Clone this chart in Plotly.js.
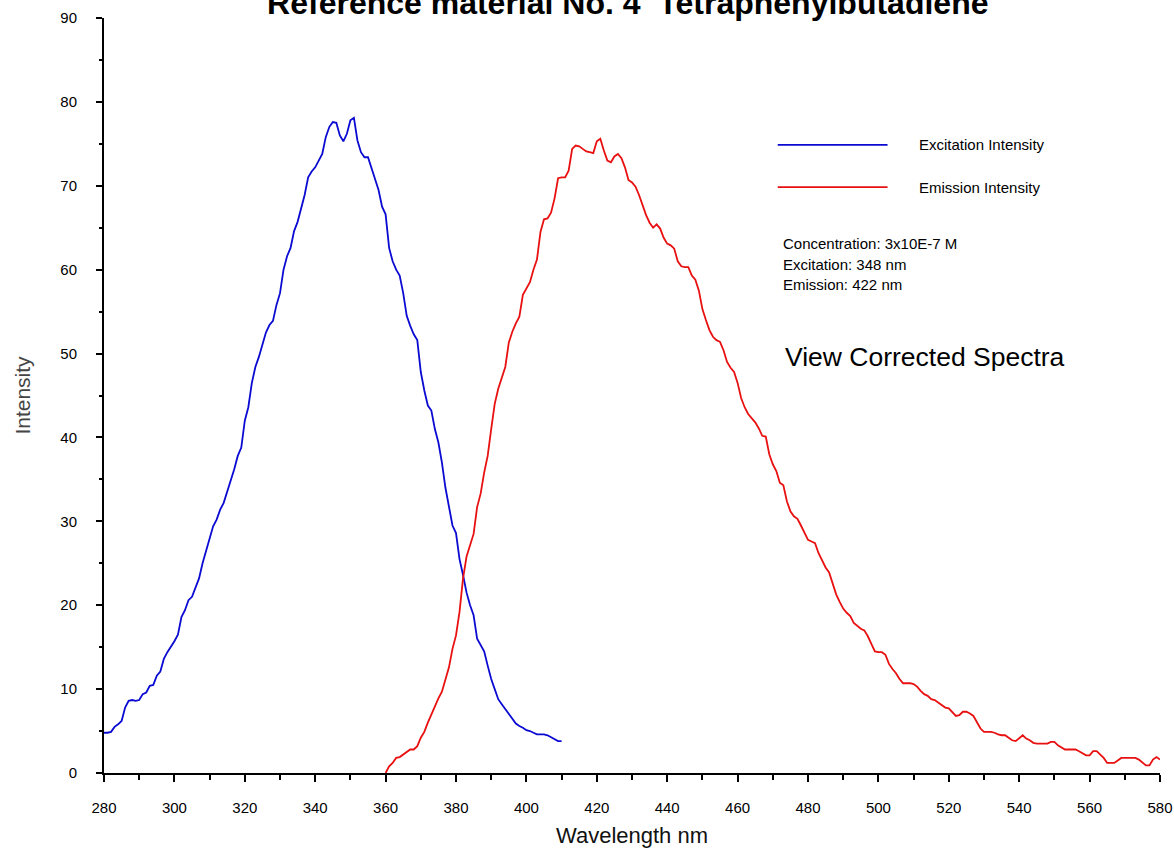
<!DOCTYPE html>
<html>
<head>
<meta charset="utf-8">
<script src="https://cdn.plot.ly/plotly-3.0.1.min.js"></script>
<style>
  html, body { margin: 0; padding: 0; background: #ffffff; }
  #chart { width: 1174px; height: 854px; }
</style>
</head>
<body>
<div id="chart"></div>
<script>
// Excitation spectrum, 280-410 nm
const excitationWavelength = [
  280,281,282,283,284,285,286,287,288,289,290,291,292,293,294,295,296,297,298,299,
  300,301,302,303,304,305,306,307,308,309,310,311,312,313,314,315,316,317,318,319,
  320,321,322,323,324,325,326,327,328,329,330,331,332,333,334,335,336,337,338,339,
  340,341,342,343,344,345,346,347,348,349,350,351,352,353,354,355,356,357,358,359,
  360,361,362,363,364,365,366,367,368,369,370,371,372,373,374,375,376,377,378,379,
  380,381,382,383,384,385,386,387,388,389,390,391,392,393,394,395,396,397,398,399,
  400,401,402,403,404,405,406,407,408,409,410
];
const excitationIntensity = [
  4.8,4.8,4.9,5.5,5.8,6.2,7.8,8.6,8.7,8.6,8.7,9.4,9.6,10.4,10.5,11.6,12.1,13.6,14.4,15.0,
  15.7,16.5,18.6,19.4,20.6,21.0,22.2,23.2,25.0,26.4,27.8,29.4,30.2,31.4,32.2,33.5,34.8,36.2,37.8,38.8,
  42.0,43.6,46.5,48.4,49.6,51.0,52.5,53.4,53.9,55.8,57.2,60.0,61.6,62.6,64.6,65.7,67.3,68.9,71.0,71.7,
  72.2,73.0,73.8,75.8,77.0,77.6,77.5,76.0,75.3,76.2,77.8,78.1,75.4,74.0,73.4,73.4,72.0,70.6,69.5,67.5,
  66.6,62.6,61.0,60.0,59.3,57.2,54.5,53.3,52.3,51.6,47.8,45.6,43.8,43.2,41.0,39.4,37.0,34.0,31.6,29.5,
  28.6,25.5,23.6,21.5,20.0,18.8,16.0,15.2,14.5,12.8,11.2,10.0,8.8,8.2,7.6,7.0,6.4,5.9,5.6,5.4,
  5.1,5.0,4.8,4.6,4.6,4.6,4.5,4.3,4.0,3.8,3.8
];

// Emission spectrum, 360-580 nm
const emissionWavelength = [
  360,361,362,363,364,365,366,367,368,369,370,371,372,373,374,375,376,377,378,379,
  380,381,382,383,384,385,386,387,388,389,390,391,392,393,394,395,396,397,398,399,
  400,401,402,403,404,405,406,407,408,409,410,411,412,413,414,415,416,417,418,419,
  420,421,422,423,424,425,426,427,428,429,430,431,432,433,434,435,436,437,438,439,
  440,441,442,443,444,445,446,447,448,449,450,451,452,453,454,455,456,457,458,459,
  460,461,462,463,464,465,466,467,468,469,470,471,472,473,474,475,476,477,478,479,
  480,481,482,483,484,485,486,487,488,489,490,491,492,493,494,495,496,497,498,499,
  500,501,502,503,504,505,506,507,508,509,510,511,512,513,514,515,516,517,518,519,
  520,521,522,523,524,525,526,527,528,529,530,531,532,533,534,535,536,537,538,539,
  540,541,542,543,544,545,546,547,548,549,550,551,552,553,554,555,556,557,558,559,
  560,561,562,563,564,565,566,567,568,569,570,571,572,573,574,575,576,577,578,579,
  580
];
const emissionIntensity = [
  0.0,0.8,1.2,1.8,1.9,2.2,2.6,2.8,2.8,3.2,4.2,4.9,6.0,7.0,8.0,8.9,9.7,11.2,12.6,14.8,
  16.4,19.2,23.2,25.8,27.2,28.5,31.7,33.3,35.8,37.8,41.0,44.0,45.8,47.2,48.4,51.3,52.6,53.6,54.4,57.0,
  57.8,58.5,60.0,61.2,64.5,66.0,66.1,66.8,68.5,70.9,71.0,71.0,71.8,74.4,74.8,74.7,74.4,74.1,74.0,73.9,
  75.3,75.6,74.2,73.0,72.8,73.5,73.8,73.3,72.2,70.7,70.4,69.9,68.9,67.6,66.5,65.6,65.0,65.4,64.9,63.8,
  63.1,62.9,62.5,61.0,60.4,60.3,60.3,59.3,58.8,57.5,55.3,54.0,52.8,52.0,51.6,51.4,50.4,49.0,48.3,47.8,
  46.5,44.7,43.6,42.8,42.3,41.8,41.1,40.2,40.1,38.0,36.8,36.0,34.6,34.3,32.4,31.2,30.6,30.3,29.5,28.6,
  27.8,27.6,27.4,26.2,25.3,24.5,23.9,22.6,21.3,20.4,19.6,19.1,18.7,17.9,17.5,17.2,17.0,16.3,15.4,14.5,
  14.4,14.4,14.1,13.0,12.4,11.9,11.2,10.7,10.7,10.7,10.6,10.3,9.8,9.4,9.2,8.8,8.7,8.4,8.2,7.8,
  7.7,7.3,6.8,6.9,7.3,7.3,7.1,6.8,6.0,5.3,4.9,4.9,4.9,4.8,4.6,4.5,4.5,4.2,3.9,3.8,
  4.2,4.5,4.1,3.9,3.6,3.5,3.5,3.5,3.5,3.7,3.7,3.3,3.0,2.8,2.8,2.8,2.8,2.6,2.3,2.1,
  2.1,2.6,2.6,2.2,1.8,1.2,1.2,1.2,1.5,1.8,1.8,1.8,1.8,1.8,1.6,1.2,0.9,0.9,1.6,1.9,
  1.6
];

const seriesNames = ['Excitation Intensity', 'Emission Intensity'];
const seriesColors = ['#0a0ad2', '#e81010'];
const infoLines = ['Concentration: 3x10E-7 M', 'Excitation: 348 nm', 'Emission: 422 nm'];
const noteText = 'View Corrected Spectra';
const titleText = '<b>Reference material No. 4 \u00a0Tetraphenylbutadiene</b>';

const FONT = 'Liberation Sans, Arial, Helvetica, sans-serif';

const traces = [
  {
    x: excitationWavelength, y: excitationIntensity, name: seriesNames[0],
    type: 'scatter', mode: 'lines',
    line: { color: seriesColors[0], width: 1.8 },
    hoverinfo: 'x+y+name'
  },
  {
    x: emissionWavelength, y: emissionIntensity, name: seriesNames[1],
    type: 'scatter', mode: 'lines',
    line: { color: seriesColors[1], width: 1.8 },
    hoverinfo: 'x+y+name'
  }
];

// Hand-drawn key: a short line sample with its label to the right
const keyRows = [0.832, 0.776];
const shapes = keyRows.map((yy, i) => ({
  type: 'line', xref: 'paper', yref: 'paper',
  x0: 0.638, x1: 0.742, y0: yy, y1: yy,
  line: { color: seriesColors[i], width: 1.8 }
}));

const annotations = [];
keyRows.forEach((yy, i) => {
  annotations.push({
    xref: 'paper', yref: 'paper', x: 0.770, y: yy,
    xanchor: 'left', yanchor: 'middle', showarrow: false,
    text: seriesNames[i], font: { family: FONT, size: 15, color: '#000' }
  });
});
const infoY = [0.7007, 0.674, 0.6464];
infoLines.forEach((t, i) => {
  annotations.push({
    xref: 'paper', yref: 'paper', x: 0.641, y: infoY[i],
    xanchor: 'left', yanchor: 'middle', showarrow: false,
    text: t, font: { family: FONT, size: 15, color: '#000' }
  });
});
annotations.push({
  xref: 'paper', yref: 'paper', x: 0.643, y: 0.551,
  xanchor: 'left', yanchor: 'middle', showarrow: false,
  text: noteText, font: { family: FONT, size: 26.5, color: '#000' }
});

const layout = {
  width: 1174, height: 854,
  paper_bgcolor: '#ffffff', plot_bgcolor: '#ffffff',
  margin: { l: 104, r: 14, t: 18, b: 81, pad: 0 },
  showlegend: false,
  font: { family: FONT, color: '#000' },
  title: {
    text: titleText,
    font: { family: FONT, size: 32, color: '#000' },
    x: 0.496, xref: 'paper', xanchor: 'center',
    y: 1 - 3 / 854, yref: 'container', yanchor: 'middle'
  },
  xaxis: {
    range: [280, 580], tick0: 280, dtick: 20,
    ticks: 'outside', ticklen: 7, tickwidth: 1.5, tickcolor: '#000',
    minor: { dtick: 10, ticks: 'outside', ticklen: 5, tickwidth: 1.5, tickcolor: '#000', showgrid: false },
    showline: true, linecolor: '#000', linewidth: 2,
    showgrid: false, zeroline: false,
    tickfont: { family: FONT, size: 15, color: '#000' },
    ticklabelstandoff: 13,
    title: { text: 'Wavelength nm', font: { family: FONT, size: 22, color: '#111' }, standoff: 13 }
  },
  yaxis: {
    range: [0, 90], tick0: 0, dtick: 10,
    ticks: 'outside', ticklen: 6, tickwidth: 1.5, tickcolor: '#000',
    minor: { dtick: 5, ticks: 'outside', ticklen: 3, tickwidth: 1.5, tickcolor: '#000', showgrid: false },
    showline: true, linecolor: '#000', linewidth: 2,
    showgrid: false, zeroline: false,
    tickfont: { family: FONT, size: 15, color: '#000' },
    ticklabelstandoff: 16,
    title: { text: 'Intensity', font: { family: FONT, size: 21, color: '#444' }, standoff: 24 }
  },
  shapes: shapes,
  annotations: annotations
};

Plotly.newPlot('chart', traces, layout, { displayModeBar: false, responsive: false });
</script>
</body>
</html>
